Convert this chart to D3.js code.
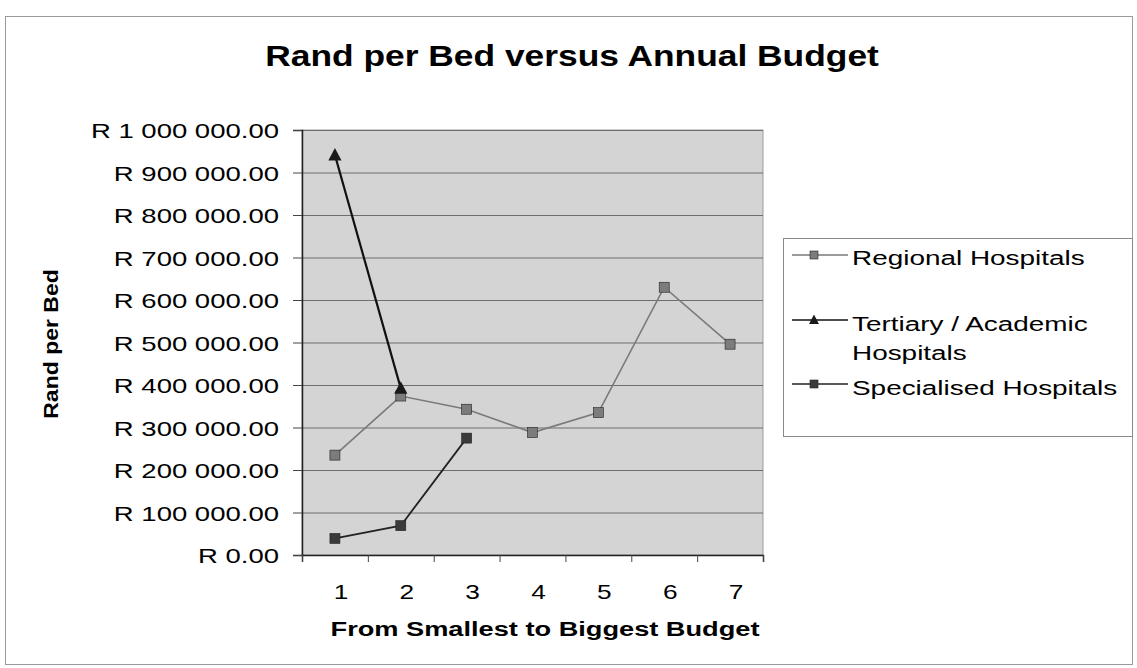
<!DOCTYPE html>
<html>
<head>
<meta charset="utf-8">
<script src="https://cdn.jsdelivr.net/npm/d3@7"></script>
<style>
  html, body { margin: 0; padding: 0; background: #ffffff; }
  svg { display: block; font-family: "Liberation Sans", Arial, sans-serif; }
</style>
</head>
<body>
<svg id="chart" width="1137" height="668"></svg>
<script>
// ---- data ----
const categories = [1, 2, 3, 4, 5, 6, 7];
const regionalHospitals = [235000, 374000, 343000, 288000, 335000, 630000, 496000];
const tertiaryAcademicHospitals = [941000, 392000, null, null, null, null, null];
const specialisedHospitals = [39000, 69000, 275000, null, null, null, null];
const yTickValues = [0, 100000, 200000, 300000, 400000, 500000, 600000, 700000, 800000, 900000, 1000000];
const seriesNames = ["Regional Hospitals", "Tertiary / Academic Hospitals", "Specialised Hospitals"];
const chartTitle = "Rand per Bed versus Annual Budget";
const yAxisTitle = "Rand per Bed";
const xAxisTitle = "From Smallest to Biggest Budget";

// ---- layout ----
const svg = d3.select("#chart");
const plot = { left: 302, right: 763, top: 130, bottom: 555 };
const SX = 1.3; // horizontal glyph stretch seen in reference

const x = d3.scaleBand().domain(categories).range([plot.left, plot.right]).padding(0);
const y = d3.scaleLinear().domain([0, 1000000]).range([plot.bottom, plot.top]);

function fmtRand(v) {
  const parts = v.toFixed(2).split(".");
  const intPart = parts[0].replace(/\B(?=(\d{3})+(?!\d))/g, " ");
  return "R " + intPart + "." + parts[1];
}

function stretchedText(parent, x0, y0, txt, opts) {
  const g = parent.append("g")
    .attr("transform", `translate(${x0},${y0}) scale(${opts.sx || SX},1)`);
  g.append("text")
    .attr("x", 0).attr("y", 0)
    .attr("text-anchor", opts.anchor || "start")
    .attr("font-size", opts.size)
    .attr("font-weight", opts.weight || "normal")
    .attr("fill", "#000")
    .text(txt);
  return g;
}

// outer chart border
svg.append("rect")
  .attr("x", 5.5).attr("y", 16.5).attr("width", 1127).attr("height", 648)
  .attr("fill", "#fff").attr("stroke", "#9a9a9a").attr("stroke-width", 1);

// title
stretchedText(svg, 572, 66, chartTitle, { size: 29, weight: "bold", anchor: "middle", sx: 1.22 });

// plot background
svg.append("rect")
  .attr("x", plot.left).attr("y", plot.top)
  .attr("width", plot.right - plot.left).attr("height", plot.bottom - plot.top)
  .attr("fill", "#d4d4d4").attr("stroke", "#9c9c9c").attr("stroke-width", 1);

// gridlines
svg.append("g")
  .selectAll("line")
  .data(yTickValues.filter(d => d > 0))
  .join("line")
  .attr("x1", plot.left).attr("x2", plot.right)
  .attr("y1", d => y(d) + 0.5).attr("y2", d => y(d) + 0.5)
  .attr("stroke", "#6e6e6e").attr("stroke-width", 1.2);

// y axis
const yAxis = d3.axisLeft(y).tickValues(yTickValues).tickSize(9).tickFormat("");
const yg = svg.append("g").attr("transform", `translate(${plot.left},0)`).call(yAxis);
yg.select(".domain").attr("stroke", "#222").attr("stroke-width", 1.5);
yg.selectAll(".tick line").attr("stroke", "#444");
yTickValues.forEach(v => {
  stretchedText(svg, 279, y(v) + 8, fmtRand(v), { size: 21, anchor: "end", sx: 1.31 });
});

// x axis
const xAxis = d3.axisBottom(d3.scaleLinear().domain([0, 7]).range([plot.left, plot.right]))
  .tickValues(d3.range(0, 8)).tickSize(7).tickFormat("");
const xg = svg.append("g").attr("transform", `translate(0,${plot.bottom})`).call(xAxis);
xg.select(".domain").attr("stroke", "#222").attr("stroke-width", 1.5);
xg.selectAll(".tick line").attr("stroke", "#444");
categories.forEach(c => {
  stretchedText(svg, x(c) + x.bandwidth() / 2 + 6, 599, String(c), { size: 21, anchor: "middle", sx: 1.25 });
});

// axis titles
stretchedText(svg, 545, 636, xAxisTitle, { size: 20, weight: "bold", anchor: "middle", sx: 1.36 });
svg.append("g")
  .attr("transform", `translate(58,344) rotate(-90) scale(1.15,1)`)
  .append("text")
  .attr("text-anchor", "middle")
  .attr("font-size", 20).attr("font-weight", "bold").attr("fill", "#000")
  .text(yAxisTitle);

// series
const cx = c => x(c) + x.bandwidth() / 2;
const series = [
  { name: seriesNames[0], values: regionalHospitals, line: "#7a7a7a", width: 1.6, marker: "square", mfill: "#7c7c7c", size: 10 },
  { name: seriesNames[1], values: tertiaryAcademicHospitals, line: "#111", width: 2.2, marker: "triangle", mfill: "#1a1a1a", size: 12 },
  { name: seriesNames[2], values: specialisedHospitals, line: "#222", width: 1.8, marker: "square", mfill: "#3a3a3a", size: 10 }
];

const lineGen = d3.line()
  .defined(d => d.v !== null)
  .x(d => cx(d.c)).y(d => y(d.v));

function drawMarker(g, type, px, py, size, fill) {
  if (type === "square") {
    g.append("rect")
      .attr("x", px - size / 2).attr("y", py - size / 2)
      .attr("width", size).attr("height", size)
      .attr("fill", fill).attr("stroke", "#222").attr("stroke-width", 0.6);
  } else {
    const h = size;
    g.append("path")
      .attr("d", `M${px},${py - h * 0.6} L${px + h * 0.55},${py + h * 0.45} L${px - h * 0.55},${py + h * 0.45} Z`)
      .attr("fill", fill);
  }
}

// draw in order: specialised, regional, tertiary (tertiary on top)
[series[2], series[0], series[1]].forEach(s => {
  const pts = categories.map((c, i) => ({ c, v: s.values[i] }));
  const g = svg.append("g");
  g.append("path").datum(pts)
    .attr("d", lineGen).attr("fill", "none")
    .attr("stroke", s.line).attr("stroke-width", s.width);
  pts.filter(p => p.v !== null).forEach(p => drawMarker(g, s.marker, cx(p.c), y(p.v), s.size, s.mfill));
});

// legend
const legend = svg.append("g");
legend.append("rect")
  .attr("x", 783.5).attr("y", 238.5).attr("width", 349).attr("height", 198)
  .attr("fill", "#fff").attr("stroke", "#8a8a8a").attr("stroke-width", 1);
const legendRows = [
  { s: series[0], symY: 255, lines: [{ t: "Regional Hospitals", y: 265 }] },
  { s: series[1], symY: 320, lines: [{ t: "Tertiary / Academic", y: 331 }, { t: "Hospitals", y: 360 }] },
  { s: series[2], symY: 384, lines: [{ t: "Specialised Hospitals", y: 395 }] }
];
legendRows.forEach(r => {
  legend.append("line")
    .attr("x1", 792).attr("x2", 848).attr("y1", r.symY).attr("y2", r.symY)
    .attr("stroke", r.s.line).attr("stroke-width", 1.4);
  drawMarker(legend, r.s.marker, 814, r.symY, r.s.marker === "square" ? 8 : 9, r.s.mfill);
  r.lines.forEach(l => stretchedText(legend, 852, l.y, l.t, { size: 21, anchor: "start", sx: 1.33 }));
});
</script>
</body>
</html>
